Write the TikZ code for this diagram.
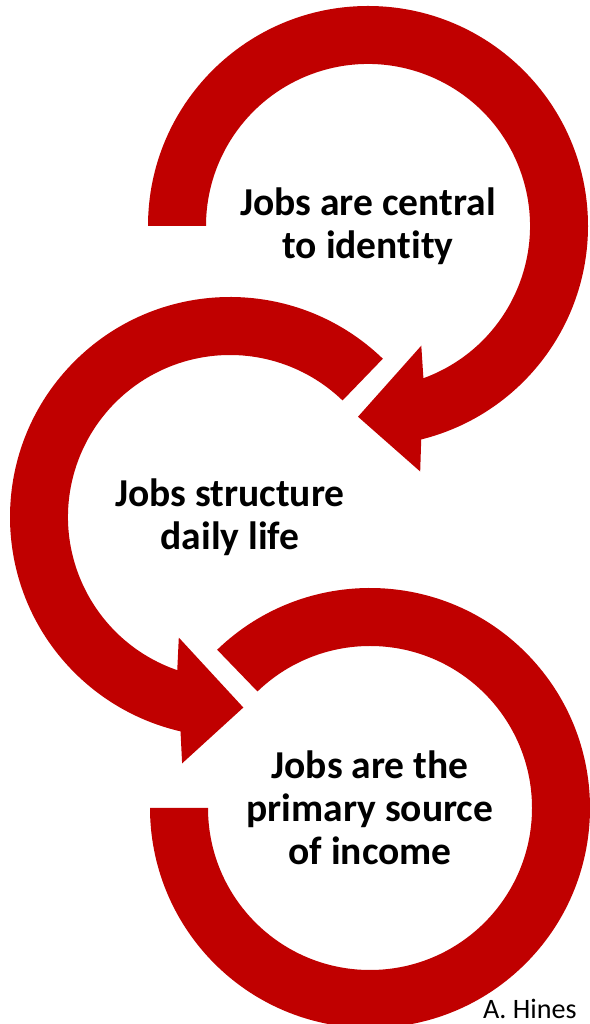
\documentclass[tikz,border=0pt]{standalone}
\usepackage{fontspec}
\setmainfont{Carlito}[Ligatures=NoCommon]
\definecolor{ringred}{RGB}{192,0,0}

\begin{document}
\begin{tikzpicture}[
        x=0.02cm, y=0.02cm,
        ringarrow/.style={fill=ringred},
        ringtext/.style={font=\fontsize{22.5}{24.5}\selectfont\bfseries, align=center, text=black},
        signature/.style={font=\fontsize{16}{18}\selectfont, anchor=base east, inner sep=0pt}
    ]
        \useasboundingbox (0,0) rectangle (589,1024);
        \coordinate (c1) at (368,798);
        \coordinate (c2) at (230,507);
        \coordinate (c3) at (370,216);
        % top ring, clockwise
        \fill[ringarrow, shift={(c1)}] (180:220) arc[start angle=180, end angle=-76, radius=220]
            -- (-78:251) -- (-93:191) -- (-66:131) -- (-70:162)
            arc[start angle=-70, end angle=180, radius=162] -- cycle;
        % middle ring, counter-clockwise
        \fill[ringarrow, shift={(c2)}] (46:220) arc[start angle=46, end angle=257, radius=220]
            -- (259:251) -- (274:191) -- (247:131) -- (251:162)
            arc[start angle=251, end angle=46, radius=162] -- cycle;
        % bottom ring
        \fill[ringarrow, shift={(c3)}] (134:220) arc[start angle=134, end angle=-180, radius=220]
            -- (-180:162) arc[start angle=-180, end angle=134, radius=162] -- cycle;
        \node[ringtext] (identity) at (c1) {Jobs are central\\to identity};
        \node[ringtext] (daily) at (c2) {Jobs structure\\daily life};
        \node[ringtext] (income) at (c3) {Jobs are the\\primary source\\of income};
        \node[signature] (hines) at (577,6) {A. Hines};
    \end{tikzpicture}
\end{document}
